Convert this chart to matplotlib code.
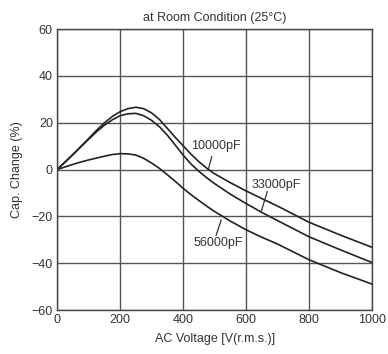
import numpy as np
import matplotlib
matplotlib.use("Agg")
import matplotlib.pyplot as plt

plt.rcParams['font.family'] = ['Liberation Sans', 'DejaVu Sans']

# AC voltage (V r.m.s.)
volts = [0, 25, 50, 75, 100, 125, 150, 175, 200, 225, 250, 275, 300, 325, 350, 375, 400,
         425, 450, 475, 500, 550, 600, 650, 700, 800, 900, 1000]
# capacitance change (%)
cap_10000 = [0, 3.2, 6.4, 9.8, 13.2, 16.7, 19.9, 22.6, 24.7, 26.0, 26.6, 26.0, 24.2, 21.4,
             17.6, 13.8, 10.2, 6.6, 3.4, 0.6, -1.8, -5.6, -9.1, -12.4, -15.6, -22.5, -28.0, -33.2]
cap_33000 = [0, 3.1, 6.3, 9.6, 12.9, 16.1, 18.9, 21.2, 23.0, 23.8, 24.0, 23.0, 21.0, 18.3,
             14.7, 10.5, 6.2, 2.4, -0.7, -3.5, -6.0, -10.5, -14.5, -18.3, -21.8, -28.7, -34.3, -39.7]
cap_56000 = [0, 1.1, 2.2, 3.2, 4.1, 4.9, 5.7, 6.4, 6.8, 6.7, 6.2, 4.8, 2.8, 0.5,
             -2.2, -5.0, -8.0, -10.7, -13.2, -15.6, -17.9, -22.0, -25.7, -28.9, -31.8, -38.5, -44.0, -48.9]

xticks = [0, 200, 400, 600, 800, 1000]
yticks = [-60, -40, -20, 0, 20, 40, 60]

fig = plt.figure(figsize=(3.88, 3.54), dpi=100)
ax = fig.add_axes([0.147, 0.124, 0.812, 0.794])

for vals in (cap_10000, cap_33000, cap_56000):
    ax.plot(volts, vals, color='#222222', lw=1.2, solid_joinstyle='round')

ax.set_xlim(0, 1000)
ax.set_ylim(-60, 60)
ax.set_xticks(xticks)
ax.set_yticks(yticks)
ax.grid(True, color='#555555', lw=1)
ax.tick_params(length=0, labelsize=9, colors='#333333', pad=3)
for s in ax.spines.values():
    s.set_color('#444444')
    s.set_linewidth(1)

# curve labels with leader lines
ax.text(505, 10, '10000pF', fontsize=9, ha='center', va='center', color='#333333')
ax.plot([491, 480], [5.5, 0], color='#333333', lw=0.9)
ax.text(695, -6.6, '33000pF', fontsize=9, ha='center', va='center', color='#333333')
ax.plot([667, 648], [-9.5, -18], color='#333333', lw=0.9)
ax.text(511, -31.4, '56000pF', fontsize=9, ha='center', va='center', color='#333333')
ax.plot([521, 505], [-21.6, -28], color='#333333', lw=0.9)

ax.set_title('at Room Condition (25\u00b0C)', fontsize=9, color='#333333', pad=6)
ax.set_xlabel('AC Voltage [V(r.m.s.)]', fontsize=9, color='#333333', labelpad=5)
ax.set_ylabel('Cap. Change (%)', fontsize=9, color='#333333', labelpad=6)

fig.savefig('out.png', dpi=100)
